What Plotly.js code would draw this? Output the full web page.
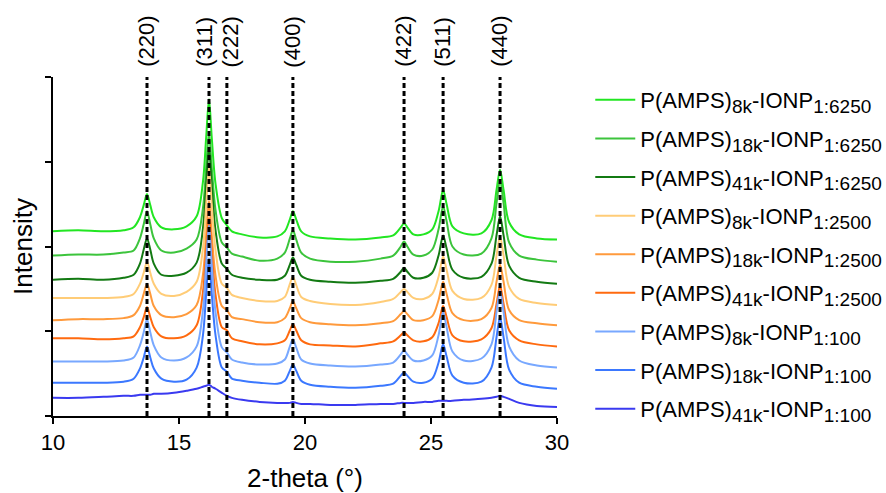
<!DOCTYPE html>
<html>
<head>
<meta charset="utf-8">
<script src="https://cdn.plot.ly/plotly-3.0.1.min.js"></script>
<style>html,body{margin:0;padding:0;background:#fff;}#chart{width:886px;height:493px;}</style>
</head>
<body>
<div id="chart"></div>
<script>
// 2-theta grid (degrees)
const twoTheta = [10, 11, 12, 12.8, 13.2, 13.45, 13.6, 13.73, 13.86, 14.0,
  14.3, 14.8, 15.3, 15.7, 15.95, 16.08, 16.19, 16.3, 16.45, 16.7,
  16.9, 17.1, 17.5, 18.2, 18.9, 19.2, 19.4, 19.52, 19.65, 19.85,
  20.2, 21, 22, 23, 23.5, 23.8, 23.93, 24.06, 24.3, 24.7,
  25.05, 25.3, 25.48, 25.62, 25.85, 26.3, 27.0, 27.4, 27.6, 27.74,
  27.88, 28.1, 28.5, 29.2, 30];

// Intensity (a.u., stacked offsets as plotted)
const i8k6250 = [183, 184, 183, 184, 187, 197, 209, 220, 209, 197,
  187, 185, 188, 198, 232, 277, 314, 276, 230, 196,
  189, 183, 180, 177, 178, 183, 195, 203, 195, 183,
  178, 176, 175, 177, 179, 187, 191, 187, 180, 180,
  185, 203, 224, 210, 188, 181, 181, 194, 224, 244,
  224, 192, 180, 176, 175];
const i18k6250 = [159, 160, 160, 162, 164, 176, 190, 203, 190, 176,
  164, 162, 166, 175, 206, 247, 281, 246, 204, 172,
  167, 161, 158, 154, 156, 162, 176, 184, 175, 162,
  156, 153, 153, 156, 159, 168, 173, 168, 160, 159,
  165, 185, 208, 193, 168, 160, 161, 176, 211, 234,
  211, 172, 159, 155, 153];
const i41k6250 = [135, 136, 135, 137, 140, 151, 165, 176, 165, 151,
  140, 139, 142, 152, 186, 230, 266, 229, 184, 151,
  146, 140, 137, 135, 135, 139, 150, 157, 150, 139,
  135, 133, 132, 134, 136, 143, 147, 143, 137, 137,
  142, 159, 179, 166, 145, 137, 138, 151, 179, 198,
  179, 149, 137, 133, 131];
const i8k2500 = [117, 117, 117, 118, 121, 131, 142, 153, 142, 131,
  121, 119, 123, 133, 166, 210, 246, 209, 164, 131,
  127, 120, 117, 114, 114, 118, 131, 138, 130, 118,
  114, 111, 110, 113, 116, 123, 126, 123, 117, 116,
  121, 138, 158, 145, 124, 116, 117, 130, 159, 178,
  159, 128, 116, 112, 110];
const i18k2500 = [95, 96, 96, 97, 100, 109, 121, 131, 121, 109,
  100, 98, 101, 110, 140, 180, 213, 179, 139, 109,
  105, 98, 96, 93, 93, 97, 107, 114, 107, 97,
  93, 91, 90, 92, 94, 101, 104, 101, 95, 95,
  99, 115, 133, 121, 102, 95, 96, 107, 133, 150,
  133, 105, 95, 92, 90];
const i41k2500 = [77, 77, 76, 77, 79, 88, 98, 108, 98, 88,
  79, 77, 80, 90, 123, 163, 196, 162, 120, 88,
  85, 77, 74, 71, 72, 75, 85, 91, 85, 75,
  71, 70, 69, 72, 74, 80, 83, 80, 75, 74,
  78, 92, 109, 98, 80, 74, 76, 87, 111, 129,
  111, 85, 75, 71, 69];
const i8k100 = [54, 54, 54, 55, 58, 70, 83, 96, 83, 70,
  58, 55, 58, 69, 105, 152, 189, 150, 103, 68,
  63, 56, 53, 51, 52, 56, 69, 76, 68, 56,
  52, 50, 49, 51, 53, 61, 65, 61, 55, 55,
  60, 80, 103, 88, 64, 55, 57, 71, 103, 124,
  103, 69, 55, 50, 48];
const i18k100 = [33, 33, 33, 34, 37, 47, 58, 69, 58, 47,
  37, 34, 36, 48, 80, 122, 156, 121, 80, 48,
  44, 37, 35, 33, 32, 35, 45, 51, 45, 35,
  31, 29, 28, 30, 32, 40, 43, 40, 34, 33,
  37, 53, 71, 59, 40, 33, 34, 48, 78, 98,
  78, 46, 33, 29, 27];
const i41k100 = [18, 18, 19, 20, 20, 21, 21, 21, 21, 22,
  22, 23, 25, 27, 29, 30, 31, 29, 27, 23,
  20, 18, 16, 14, 13, 13, 13, 14, 13, 12,
  12, 11, 11, 12, 12, 13, 13, 13, 13, 14,
  14, 15, 15, 15, 15, 16, 17, 18, 19, 20,
  19, 17, 13, 10, 9];

// Legend label parts
const molWeights = ['8k', '18k', '41k', '8k', '18k', '41k', '8k', '18k', '41k'];
const ratios = ['1:6250', '1:6250', '1:6250', '1:2500', '1:2500', '1:2500', '1:100', '1:100', '1:100'];
const seriesValues = [i8k6250, i18k6250, i41k6250, i8k2500, i18k2500, i41k2500, i8k100, i18k100, i41k100];
const seriesColors = ['#22e622', '#3cc43c', '#137a13', '#ffcc77', '#ff9a3c', '#ff6a0f', '#78a8ff', '#3b78ff', '#3a3af0'];

// Reflection positions and Miller indices
const peakPos = [13.73, 16.19, 16.9, 19.52, 23.93, 25.48, 27.74];
const peakLabels = ['(220)', '(311)', '(222)', '(400)', '(422)', '(511)', '(440)'];
const labelNudge = {'(311)': -4, '(222)': 4};

const FONT = 'Arial, "Liberation Sans", sans-serif';
const sub = s => '<sub><span style="font-size:19px">' + s + '</span></sub>';

const traces = seriesValues.map((vals, k) => ({
  type: 'scatter', mode: 'lines',
  x: twoTheta, y: vals,
  name: 'P(AMPS)' + sub(molWeights[k]) + '-IONP' + sub(ratios[k]),
  legendgroup: 'g' + k,
  line: {color: seriesColors[k], width: 2, shape: 'spline', smoothing: 0.9}
}));

const shapes = peakPos.map(p => ({
  type: 'line', xref: 'x', yref: 'paper',
  x0: p, x1: p, y0: 0, y1: 1,
  line: {color: '#000', width: 3, dash: '5px,3px'},
  layer: 'above'
}));

const annotations = peakPos.map((p, k) => ({
  xref: 'x', yref: 'paper', x: p, y: 1.104,
  xshift: labelNudge[peakLabels[k]] || 0,
  text: peakLabels[k], showarrow: false, textangle: -90,
  xanchor: 'center', yanchor: 'middle',
  font: {family: FONT, size: 22, color: '#000'}
}));

const layout = {
  width: 886, height: 493,
  margin: {l: 53, r: 329, t: 77, b: 77, autoexpand: false},
  paper_bgcolor: '#fff', plot_bgcolor: '#fff',
  font: {family: FONT, color: '#000'},
  showlegend: true,
  legend: {
    x: 1.066, xanchor: 'left', y: 0.994, yanchor: 'top',
    traceorder: 'grouped', tracegroupgap: 7,
    font: {family: FONT, size: 22, color: '#000'},
    bgcolor: 'rgba(0,0,0,0)', itemwidth: 40, maxheight: 480
  },
  xaxis: {
    range: [10, 30], tickvals: [10, 15, 20, 25, 30], ticktext: ['10', '15', '20', '25', '30'],
    ticks: 'outside', ticklen: 6, tickwidth: 2, tickcolor: '#000',
    showline: true, linewidth: 2, linecolor: '#000',
    showgrid: false, zeroline: false,
    tickfont: {family: FONT, size: 22, color: '#000'},
    title: {text: '2-theta (°)', font: {family: FONT, size: 26, color: '#000'}, standoff: 14}
  },
  yaxis: {
    range: [0, 336], dtick: 84, tick0: 0,
    ticks: 'outside', ticklen: 6, tickwidth: 2, tickcolor: '#000',
    showline: true, linewidth: 2, linecolor: '#000',
    showgrid: false, zeroline: false, showticklabels: false,
    title: {text: 'Intensity', font: {family: FONT, size: 26, color: '#000'}, standoff: 5}
  },
  shapes: shapes,
  annotations: annotations
};

Plotly.newPlot('chart', traces, layout, {staticPlot: true, displayModeBar: false});
</script>
</body>
</html>
